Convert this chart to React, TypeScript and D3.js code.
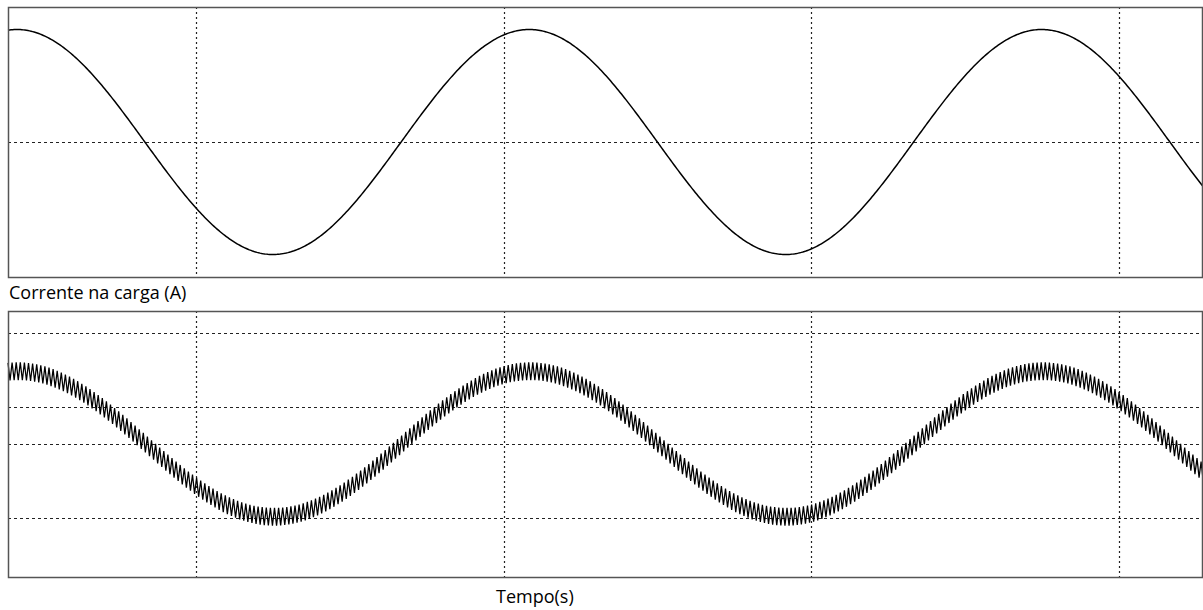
import React, { useEffect, useRef } from "react";
import * as d3 from "d3";

// ---- data ----
const timeWindowMs = [13.886, 52.715];
const gridTimesMs = [20, 30, 40, 50];
const voltageRange = [-1.2, 1.2];
const voltageGridLevels = [0];
const currentRange = [-18, 18];
const currentGridLevels = [15, 5, 0, -10];
const fundamentalHz = [60];
const voltagePeakTimesMs = [14.17, 30.84, 47.51];
const currentPeakTimesMs = [14.2, 30.87, 47.54];
const voltageAmplitude = [1.0];
const currentAmplitude = [9.85];
const rippleAmplitudeA = [1.2];
const switchingKHz = [7.5];
const labels = ["Corrente na carga (A)", "Tempo(s)"];

const W = 1203;
const H = 610;
const left = 8;
const right = 1202;
const topPanel = { y0: 7, y1: 277 };
const botPanel = { y0: 311, y1: 577 };

export default function App() {
  const ref = useRef<SVGSVGElement | null>(null);

  useEffect(() => {
    const svg = d3.select(ref.current);
    svg.selectAll("*").remove();

    const x = d3.scaleLinear().domain(timeWindowMs).range([left, right]);
    const yV = d3.scaleLinear().domain(voltageRange).range([topPanel.y1, topPanel.y0]);
    const yI = d3.scaleLinear().domain(currentRange).range([botPanel.y1, botPanel.y0]);

    const periodMs = 1000 / fundamentalHz[0];

    const drawPanel = (p: { y0: number; y1: number }, y: d3.ScaleLinear<number, number>, levels: number[]) => {
      const g = svg.append("g");
      g.selectAll("line.h")
        .data(levels)
        .join("line")
        .attr("x1", left)
        .attr("x2", right)
        .attr("y1", (d) => Math.round(y(d)) + 0.5)
        .attr("y2", (d) => Math.round(y(d)) + 0.5)
        .attr("stroke", "#222")
        .attr("stroke-width", 1.2)
        .attr("stroke-dasharray", "3,3");
      g.selectAll("line.v")
        .data(gridTimesMs)
        .join("line")
        .attr("x1", (d) => Math.round(x(d)) + 0.5)
        .attr("x2", (d) => Math.round(x(d)) + 0.5)
        .attr("y1", p.y0)
        .attr("y2", p.y1)
        .attr("stroke", "#222")
        .attr("stroke-width", 1.2)
        .attr("stroke-dasharray", "2,3");
      return g;
    };

    const gTop = drawPanel(topPanel, yV, voltageGridLevels);
    const gBot = drawPanel(botPanel, yI, currentGridLevels);

    // top waveform
    const tStep = 0.05;
    const tTop = d3.range(timeWindowMs[0], timeWindowMs[1] + tStep, tStep);
    const vPts: [number, number][] = tTop.map((t) => [
      t,
      voltageAmplitude[0] * Math.cos((2 * Math.PI * (t - voltagePeakTimesMs[0])) / periodMs),
    ]);
    gTop
      .append("path")
      .attr("d", d3.line<[number, number]>().x((d) => x(d[0])).y((d) => yV(d[1]))(vPts) || "")
      .attr("fill", "none")
      .attr("stroke", "#000")
      .attr("stroke-width", 1.5);

    // bottom waveform with switching ripple
    const halfSw = 1 / switchingKHz[0] / 2;
    const tBot = d3.range(timeWindowMs[0], timeWindowMs[1] + halfSw, halfSw);
    const iPts: [number, number][] = tBot.map((t, k) => [
      t,
      currentAmplitude[0] * Math.cos((2 * Math.PI * (t - currentPeakTimesMs[0])) / periodMs) +
        (k % 2 === 0 ? rippleAmplitudeA[0] : -rippleAmplitudeA[0]),
    ]);
    gBot
      .append("path")
      .attr("d", d3.line<[number, number]>().x((d) => x(d[0])).y((d) => yI(d[1]))(iPts) || "")
      .attr("fill", "none")
      .attr("stroke", "#000")
      .attr("stroke-width", 1.25);

    // frames
    [topPanel, botPanel].forEach((p) => {
      svg
        .append("rect")
        .attr("x", left + 0.5)
        .attr("y", p.y0 + 0.5)
        .attr("width", right - left)
        .attr("height", p.y1 - p.y0)
        .attr("fill", "none")
        .attr("stroke", "#555")
        .attr("stroke-width", 1.5);
    });

    svg
      .append("text")
      .attr("x", 9)
      .attr("y", 299)
      .attr("font-family", "'Open Sans', sans-serif")
      .attr("font-size", 18)
      .attr("fill", "#000")
      .text(labels[0]);

    svg
      .append("text")
      .attr("x", 496)
      .attr("y", 603)
      .attr("font-family", "'Open Sans', sans-serif")
      .attr("font-size", 18)
      .attr("fill", "#000")
      .text(labels[1]);
  }, []);

  return (
    <svg
      ref={ref}
      width={W}
      height={H}
      style={{ position: "absolute", left: 0, top: 0, background: "#fff", display: "block" }}
    />
  );
}
